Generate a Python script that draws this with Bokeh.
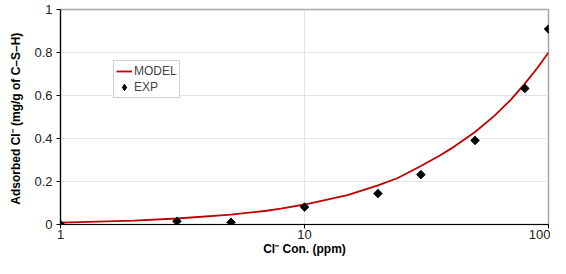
from bokeh.plotting import figure
from bokeh.models import FixedTicker, Legend, LegendItem, Range1d
from bokeh.embed import file_html
from bokeh.resources import INLINE

# Data
model_x = [1, 2, 3, 5, 7, 8, 10, 15, 20, 24, 30, 36, 40, 50, 60, 70, 80, 90, 100]
model_y = [0.009, 0.018, 0.028, 0.046, 0.064, 0.074, 0.093, 0.137, 0.182, 0.215,
           0.272, 0.322, 0.354, 0.43, 0.505, 0.58, 0.655, 0.728, 0.80]
exp_x = [1, 3, 5, 10, 20, 30, 50, 80, 100]
exp_y = [0.0, 0.015, 0.01, 0.081, 0.144, 0.232, 0.391, 0.633, 0.909]
x_ticks = [1, 10, 100]
y_ticks = [0, 0.2, 0.4, 0.6, 0.8, 1]

FONT = "Liberation Sans"

p = figure(width=550, height=258, x_axis_type="log", output_backend="svg",
           toolbar_location=None, x_range=Range1d(1, 100), y_range=Range1d(0, 1),
           min_border_left=60, min_border_right=2, min_border_top=9, min_border_bottom=30)

p.outline_line_color = "#a6a6a6"
p.outline_line_width = 1.5

line = p.line(model_x, model_y, line_color="#c00000", line_width=1.8)
# diamond glyph (used for the legend), covered by the rotated squares
pts_leg = p.scatter(exp_x, exp_y, marker="diamond", size=7,
                    fill_color="black", line_color="black")
pts = p.scatter(exp_x, exp_y, marker="square", angle=0.785398, size=6,
                fill_color="black", line_color="black")

p.xaxis.ticker = FixedTicker(ticks=x_ticks, minor_ticks=[])
p.xaxis.major_label_overrides = {1: "1", 10: "10", 100: "100"}
p.yaxis.ticker = FixedTicker(ticks=y_ticks, minor_ticks=[])
p.yaxis.major_label_overrides = {0: "0", 1: "1"}

for ax in (p.xaxis[0], p.yaxis[0]):
    ax.axis_line_color = "black"
    ax.axis_line_width = 1.2
    ax.major_tick_line_color = "black"
    ax.major_tick_in = 0
    ax.major_tick_out = 4
    ax.minor_tick_line_color = None
    ax.major_label_text_font = FONT
    ax.major_label_text_font_size = "13px"
    ax.major_label_text_color = "#222222"
    ax.axis_label_text_font = FONT
    ax.axis_label_text_font_size = "12px"
    ax.axis_label_text_font_style = "bold"
    ax.axis_label_text_color = "black"

p.xaxis.axis_label = "Cl\u207b Con. (ppm)"
p.yaxis.axis_label = "Adsorbed Cl\u207b  (mg/g of C\u2013S\u2013H)"
p.xaxis.axis_label_standoff = 0
p.yaxis.axis_label_standoff = 8
p.xaxis.major_label_standoff = 1
p.yaxis.major_label_standoff = 4

p.xgrid.grid_line_color = "#e3e3e3"
p.ygrid.grid_line_color = "#e3e3e3"
p.xgrid.ticker = FixedTicker(ticks=x_ticks)
p.ygrid.ticker = FixedTicker(ticks=y_ticks)

legend = Legend(items=[LegendItem(label="MODEL", renderers=[line]),
                       LegendItem(label="EXP", renderers=[pts_leg])],
                location=(53, 126))
legend.label_text_font = FONT
legend.label_text_font_size = "12px"
legend.border_line_color = "#a0a0a0"
legend.border_line_width = 1
legend.padding = 2
legend.spacing = 0
legend.margin = 0
legend.glyph_width = 16
legend.glyph_height = 16
legend.label_standoff = 2
legend.label_height = 16
p.add_layout(legend)

open("out.html", "w").write(file_html(p, INLINE))
